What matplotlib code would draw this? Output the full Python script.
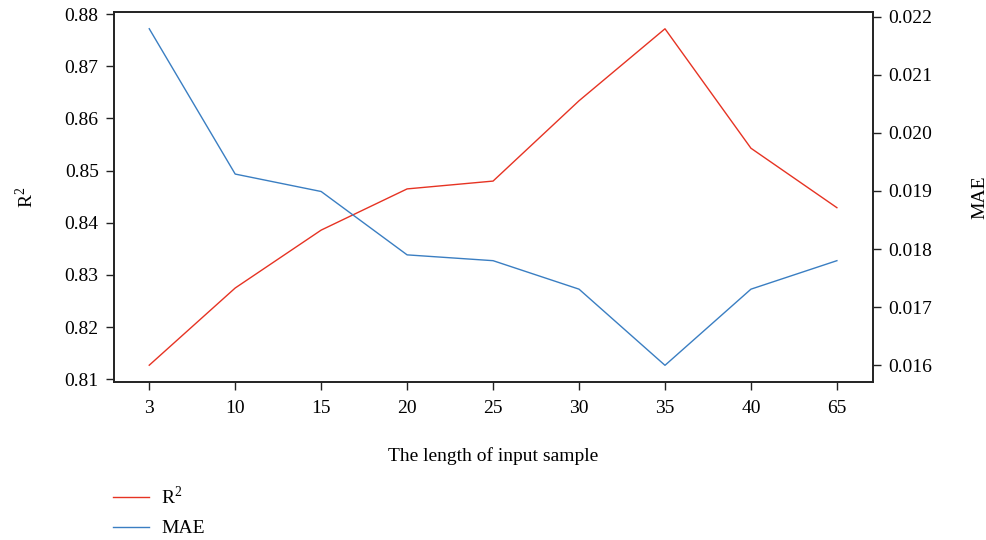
import numpy as np
import matplotlib
matplotlib.use("Agg")
import matplotlib.pyplot as plt

# Daten
laengen = ["3", "10", "15", "20", "25", "30", "35", "40", "65"]
r2 = [0.8127, 0.8275, 0.8386, 0.8465, 0.8480, 0.8634, 0.8772, 0.8543, 0.8429]
mae = [0.02179, 0.01929, 0.01899, 0.01790, 0.01780, 0.01731, 0.01600, 0.01731, 0.01780]

plt.rcParams['font.family'] = ['Liberation Serif', 'DejaVu Serif']
plt.rcParams['font.size'] = 14
plt.rcParams['mathtext.fontset'] = 'custom'
plt.rcParams['mathtext.rm'] = 'Liberation Serif'

rot = '#e63323'
blau = '#3a7ec2'

fig = plt.figure(figsize=(9.87, 5.4), dpi=100)
ax = fig.add_axes([0.1155, 0.2926, 0.769, 0.6854])
ax2 = ax.twinx()

x = np.arange(len(laengen))
l1, = ax.plot(x, r2, color=rot, linewidth=1.0, label=r'R$^\mathrm{2}$')
l2, = ax2.plot(x, mae, color=blau, linewidth=1.0, label='MAE')

ax.set_xlim(-0.41, 8.42)
ax.set_ylim(0.80948, 0.88044)
ax2.set_ylim(0.015713, 0.02208)

ax.set_xticks(x)
ax.set_xticklabels(laengen)
ax.set_yticks(np.arange(0.81, 0.8801, 0.01))
ax.set_yticklabels(["%.2f" % v for v in np.arange(0.81, 0.8801, 0.01)])
ax2.set_yticks(np.arange(0.016, 0.02201, 0.001))
ax2.set_yticklabels(["%.3f" % v for v in np.arange(0.016, 0.02201, 0.001)])

for a in (ax, ax2):
    a.tick_params(direction='out', length=6, width=1.0, color='#222222', pad=5)
    for s in a.spines.values():
        s.set_linewidth(1.2)
        s.set_color('#222222')

ax.tick_params(axis='x', pad=7)

ax.set_ylabel(r'R$^\mathrm{2}$', labelpad=20)
ax2.set_ylabel('MAE', labelpad=28)
ax.set_xlabel('The length of input sample', labelpad=22)

fig.legend(handles=[l1, l2], loc='upper left', bbox_to_anchor=(0.114, 0.101),
           frameon=False, handlelength=1.9, labelspacing=0.6, handletextpad=0.6,
           borderaxespad=0.0, borderpad=0.0, bbox_transform=fig.transFigure)

fig.savefig('out.png', dpi=100)
